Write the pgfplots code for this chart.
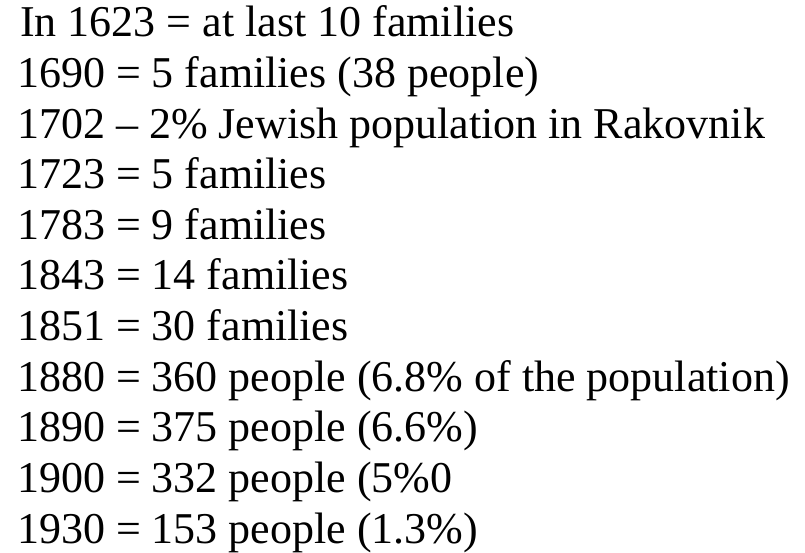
\documentclass[border=0pt]{standalone}
\usepackage{pgfplots}
\pgfplotsset{compat=1.18}
\usepackage{fontspec}
\setmainfont{Liberation Serif}
\begin{document}
\begin{tikzpicture}
\begin{axis}[
  width=805bp, height=553bp, scale only axis,
  xmin=0, xmax=805, ymin=0, ymax=553,
  hide axis, clip=false,
]
\path (axis cs:0,0) rectangle (axis cs:805,553);
\tikzset{ln/.style={anchor=base west, inner sep=0pt, outer sep=0pt, font=\fontsize{44bp}{50.6bp}\selectfont, text=black}}
\node[ln] at (axis cs:20,516) {In 1623 = at last 10 families};
\node[ln] at (axis cs:17,465.4) {1690 = 5 families (38 people)};
\node[ln] at (axis cs:17,414.8) {1702 -- 2\% Jewish population in Rakovnik};
\node[ln] at (axis cs:17,364.2) {1723 = 5 families};
\node[ln] at (axis cs:17,313.6) {1783 = 9 families};
\node[ln] at (axis cs:17,263) {1843 = 14 families};
\node[ln] at (axis cs:17,212.4) {1851 = 30 families};
\node[ln] at (axis cs:17,161.8) {1880 = 360 people (6.8\% of the population)};
\node[ln] at (axis cs:17,111.2) {1890 = 375 people (6.6\%)};
\node[ln] at (axis cs:17,60.6) {1900 = 332 people (5\%0};
\node[ln] at (axis cs:17,10) {1930 = 153 people (1.3\%)};
\end{axis}
\end{tikzpicture}
\end{document}
